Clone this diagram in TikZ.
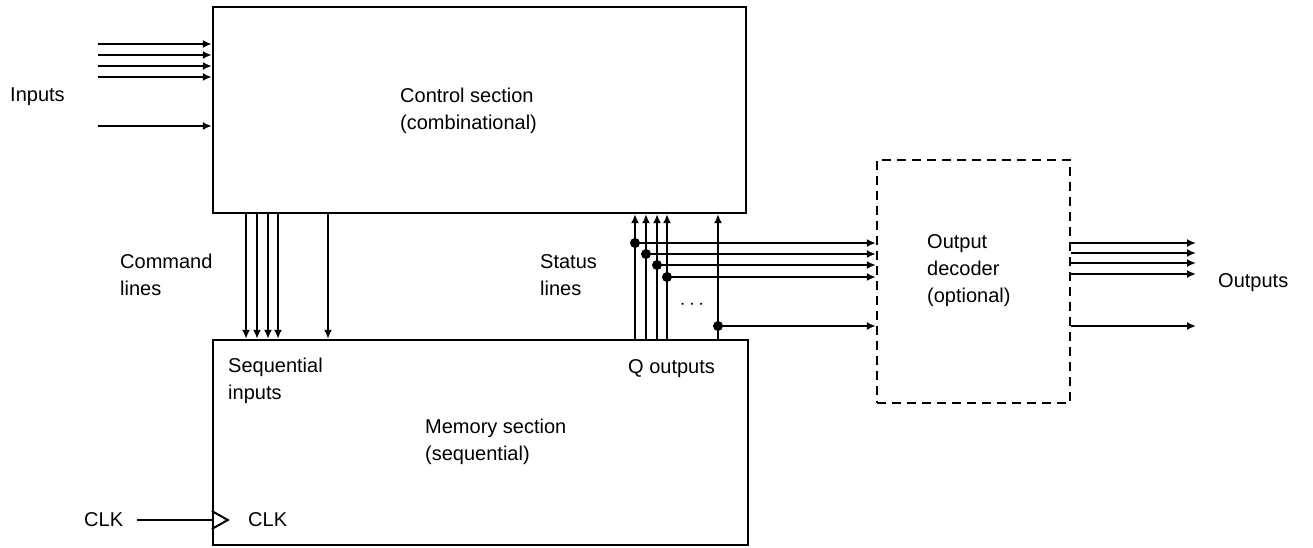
\documentclass[tikz,border=0pt]{standalone}
\usepackage{fontspec}
\setmainfont{Liberation Sans}
\usepackage{tikz}
\usetikzlibrary{arrows.meta, positioning, calc}

\begin{document}
\begin{tikzpicture}[
    x=1pt, y=-1pt,
    blockbox/.style={draw, rectangle, line width=2.4pt, inner sep=0pt},
    optbox/.style={draw, rectangle, line width=2.4pt, dash pattern=on 9pt off 6pt, inner sep=0pt},
    lbl/.style={font=\fontsize{20}{27}\selectfont, align=left, inner sep=0pt, anchor=west},
    sig/.style={line width=2.4pt, -{Latex[length=9pt,width=8pt]}},
    wire/.style={line width=2.4pt},
    junc/.style={circle, fill, inner sep=0pt, minimum size=10pt}
]
\useasboundingbox (0,0) rectangle (1313,548);

% Blocks
\node (ctrl) [blockbox, minimum width=533pt, minimum height=206pt] at (479.5,110) {};
\node (mem) [blockbox, minimum width=535pt, minimum height=205pt] at (480.5,442.5) {};
\node (dec) [optbox, minimum width=193pt, minimum height=243pt] at (973.5,281.5) {};

% Block texts
\node (ctrlT) [lbl] at (400,111) {Control section\\(combinational)};
\node (memT) [lbl] at (425,442) {Memory section\\(sequential)};
\node (decT) [lbl] at (927,271) {Output\\decoder\\(optional)};
\node (seqT) [lbl] at (228,381) {Sequential\\inputs};
\node (qT) [lbl] at (628,369) {Q outputs};
\node (cmdT) [lbl] at (120,275) {Command\\lines};
\node (stT) [lbl] at (540,275) {Status\\lines};
\node (inT) [lbl] at (10,97) {Inputs};
\node (outT) [lbl] at (1218,283) {Outputs};

% Inputs
\coordinate (in1) at (98,44);
\coordinate (in2) at (98,55);
\coordinate (in3) at (98,66);
\coordinate (in4) at (98,77);
\coordinate (in5) at (98,126);
\draw[sig] (in1) -- (ctrl.west |- in1);
\draw[sig] (in2) -- (ctrl.west |- in2);
\draw[sig] (in3) -- (ctrl.west |- in3);
\draw[sig] (in4) -- (ctrl.west |- in4);
\draw[sig] (in5) -- (ctrl.west |- in5);

% Command lines
\draw[sig] (ctrl.south -| 246,0) -- (mem.north -| 246,0);
\draw[sig] (ctrl.south -| 257,0) -- (mem.north -| 257,0);
\draw[sig] (ctrl.south -| 268,0) -- (mem.north -| 268,0);
\draw[sig] (ctrl.south -| 278,0) -- (mem.north -| 278,0);
\draw[sig] (ctrl.south -| 328,0) -- (mem.north -| 328,0);

% Status lines
\node (j1) [junc] at (635,243) {};
\node (j2) [junc] at (646,254) {};
\node (j3) [junc] at (657,265) {};
\node (j4) [junc] at (667,277) {};
\node (j5) [junc] at (718,326) {};
\draw[sig] (mem.north -| j1) -- (ctrl.south -| j1);
\draw[sig] (mem.north -| j2) -- (ctrl.south -| j2);
\draw[sig] (mem.north -| j3) -- (ctrl.south -| j3);
\draw[sig] (mem.north -| j4) -- (ctrl.south -| j4);
\draw[sig] (mem.north -| j5) -- (ctrl.south -| j5);
\node (sdots) [font=\fontsize{20}{24}\selectfont] at (692,305) {$\cdots$};

% Status lines to output decoder
\draw[sig] (j1.center) -- (dec.west |- j1);
\draw[sig] (j2.center) -- (dec.west |- j2);
\draw[sig] (j3.center) -- (dec.west |- j3);
\draw[sig] (j4.center) -- (dec.west |- j4);
\draw[sig] (j5.center) -- (dec.west |- j5);

% Outputs
\coordinate (out1) at (1196,243);
\coordinate (out2) at (1196,253);
\coordinate (out3) at (1196,263);
\coordinate (out4) at (1196,274);
\coordinate (out5) at (1196,326);
\draw[sig] (dec.east |- out1) -- (out1);
\draw[sig] (dec.east |- out2) -- (out2);
\draw[sig] (dec.east |- out3) -- (out3);
\draw[sig] (dec.east |- out4) -- (out4);
\draw[sig] (dec.east |- out5) -- (out5);

% Clock
\node (clkL) [lbl] at (84,520) {CLK};
\node (clkT) [lbl] at (248,520) {CLK};
\coordinate (clkA) at (mem.west |- clkL);
\draw[wire] (clkL.east) ++(14,0) -- (clkA);
\draw[line width=2pt] ($(clkA)+(0,-9)$) -- ($(clkA)+(16,0)$) -- ($(clkA)+(0,9)$);

\end{tikzpicture}
\end{document}
